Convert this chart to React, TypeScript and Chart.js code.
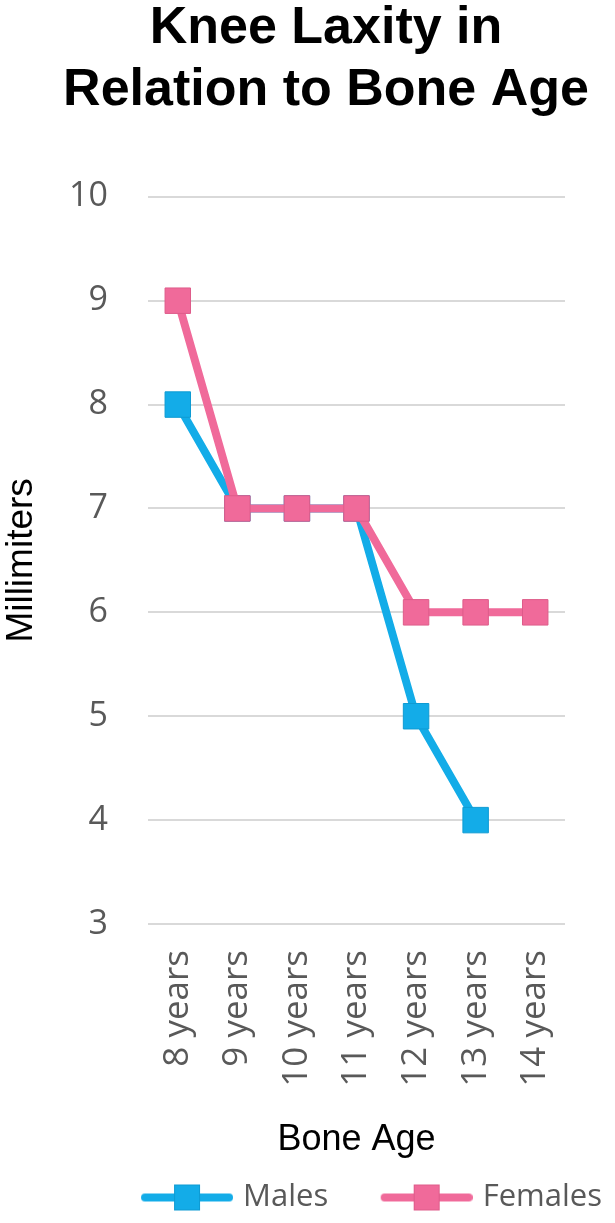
import { useEffect, useRef } from "react";
import { Chart, registerables } from "chart.js";

Chart.register(...registerables);

const boneAges = ["8 years", "9 years", "10 years", "11 years", "12 years", "13 years", "14 years"];
const males = [8, 7, 7, 7, 5, 4, null];
const females = [9, 7, 7, 7, 6, 6, 6];
const yTicks = [3, 4, 5, 6, 7, 8, 9, 10];

const BLUE = "#13ACE8";
const BLUE_EDGE = "#0E9BD3";
const PINK = "#F06A9A";
const PINK_EDGE = "#DE5C8A";
const GREY = "#595959";

const SANS = "'Liberation Sans', Arial, sans-serif";
const TICK_FONT = "'Open Sans', sans-serif";

// line + square swatch used as the legend point style
const legendIcon = (color: string, edge: string) => {
  const c = document.createElement("canvas");
  c.width = 137;
  c.height = 30;
  const g = c.getContext("2d")!;
  g.strokeStyle = color;
  g.lineWidth = 8;
  g.lineCap = "round";
  g.beginPath();
  g.moveTo(49, 15);
  g.lineTo(133, 15);
  g.stroke();
  g.fillStyle = color;
  g.fillRect(78, 2, 26, 26);
  g.strokeStyle = edge;
  g.lineWidth = 1;
  g.strokeRect(78.5, 2.5, 25, 25);
  return c;
};

export default function App() {
  const canvasRef = useRef<HTMLCanvasElement>(null);

  useEffect(() => {
    if (!canvasRef.current) return;
    const icons = [legendIcon(BLUE, BLUE_EDGE), legendIcon(PINK, PINK_EDGE)];

    const chart = new Chart(canvasRef.current, {
      type: "line",
      data: {
        labels: boneAges,
        datasets: [
          {
            label: "Males",
            data: males,
            borderColor: BLUE,
            backgroundColor: BLUE,
            borderWidth: 8,
            pointStyle: "rect",
            pointRadius: 18,
            pointHoverRadius: 18,
            pointBackgroundColor: BLUE,
            pointBorderColor: BLUE_EDGE,
            pointBorderWidth: 1,
            order: 1,
          },
          {
            label: "Females",
            data: females,
            borderColor: PINK,
            backgroundColor: PINK,
            borderWidth: 8,
            pointStyle: "rect",
            pointRadius: 18,
            pointHoverRadius: 18,
            pointBackgroundColor: PINK,
            pointBorderColor: PINK_EDGE,
            pointBorderWidth: 1,
            order: 0,
          },
        ],
      },
      options: {
        responsive: false,
        animation: false,
        layout: { padding: { left: 37, right: 0, top: 0, bottom: 0 } },
        plugins: {
          title: {
            display: true,
            text: ["Knee Laxity in", "Relation to Bone Age"],
            color: "#000",
            font: { family: SANS, size: 52, weight: "bold", lineHeight: 1.2 },
            padding: { top: -3, bottom: 75 },
          },
          legend: {
            position: "bottom",
            align: "end",
            labels: {
              usePointStyle: true,
              pointStyleWidth: 126,
              padding: 13,
              color: GREY,
              font: { family: TICK_FONT, size: 31 },
              sort: (a, b) => (a.datasetIndex ?? 0) - (b.datasetIndex ?? 0),
              generateLabels: (c) =>
                Chart.defaults.plugins.legend.labels
                  .generateLabels(c)
                  .map((item) => ({ ...item, pointStyle: icons[item.datasetIndex ?? 0] as any })),
            },
          },
          tooltip: { enabled: false },
        },
        scales: {
          x: {
            offset: true,
            grid: { display: false, drawTicks: false },
            border: { display: false },
            ticks: {
              minRotation: 90,
              maxRotation: 90,
              autoSkip: false,
              padding: 26,
              color: GREY,
              font: { family: TICK_FONT, size: 35 },
            },
            title: {
              display: true,
              text: "Bone Age",
              color: "#000",
              font: { family: SANS, size: 36 },
              padding: { top: 0, bottom: 7 },
            },
            afterFit: (s) => {
              s.height = 245;
            },
          },
          y: {
            min: 3,
            max: 10,
            afterBuildTicks: (s) => {
              s.ticks = yTicks.map((v) => ({ value: v }));
            },
            grid: { color: "#D9D9D9", lineWidth: 2, drawTicks: false },
            border: { display: false },
            ticks: {
              padding: 40,
              color: GREY,
              font: { family: TICK_FONT, size: 34 },
            },
            title: {
              display: true,
              text: "Millimiters",
              color: "#000",
              font: { family: SANS, size: 37 },
              padding: { top: -37, bottom: 0 },
            },
            afterFit: (s) => {
              s.width = 111;
            },
          },
          // empty right-hand axis that only reserves the right margin
          y2: {
            position: "right",
            grid: { display: false, drawTicks: false },
            border: { display: false },
            ticks: { display: false },
            afterFit: (s) => {
              s.width = 50;
            },
          },
        },
      },
    });

    return () => chart.destroy();
  }, []);

  return (
    <div style={{ position: "absolute", left: 0, top: 0, width: 615, height: 1223, background: "#fff" }}>
      <canvas ref={canvasRef} width={615} height={1223} />
    </div>
  );
}
